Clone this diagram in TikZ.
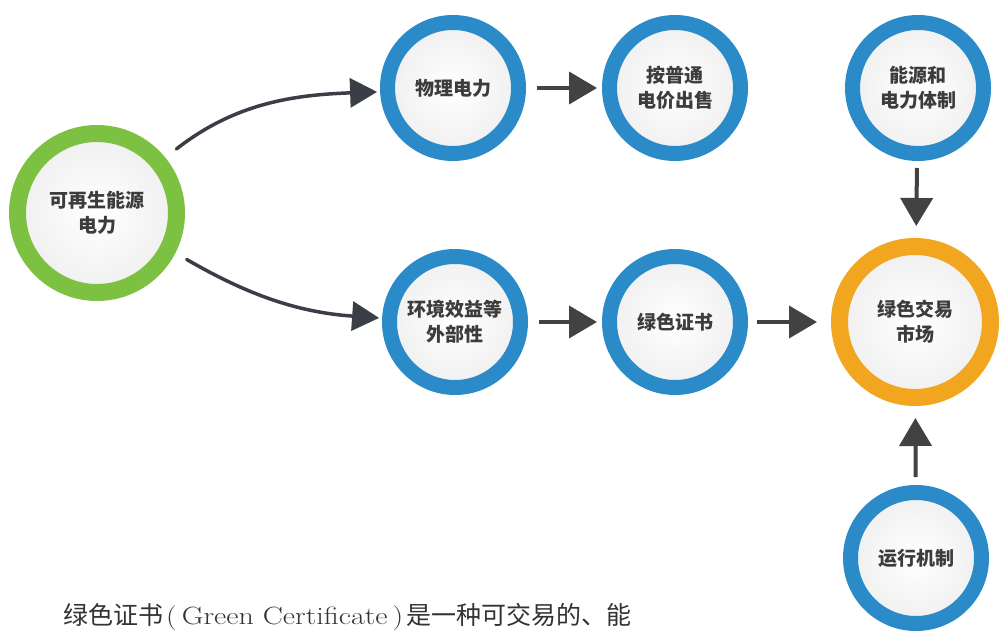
\documentclass[tikz,border=0pt]{standalone}
\usepackage{fontspec}
\newfontfamily\cjk{Noto Sans CJK SC}
\newfontfamily\latinw{Latin Modern Roman}[FakeStretch=1.2]
\usetikzlibrary{arrows.meta}
\definecolor{ringblue}{HTML}{2B8BC9}
\definecolor{ringgreen}{HTML}{7DC142}
\definecolor{ringorange}{HTML}{F2A51E}
\definecolor{txtgray}{HTML}{3C3C3C}
\definecolor{arrgray}{HTML}{424242}
\definecolor{arrslate}{HTML}{3B3E47}
\begin{document}
\begin{tikzpicture}[x=1pt,y=-1pt,
  bub/.style={circle, draw=ringblue, line width=15pt, minimum size=131pt, inner sep=0pt,
    inner color=white, outer color=black!6, text=txtgray, align=center,
    font=\cjk\bfseries\fontsize{19}{25}\selectfont},
  greenbub/.style={bub, draw=ringgreen, line width=17pt, minimum size=159pt},
  orangebub/.style={bub, draw=ringorange, line width=17pt, minimum size=151pt},
  sarr/.style={draw=arrgray, line width=4pt, -{Triangle[length=28pt,width=32pt]}, arrgray},
  carr/.style={draw=arrslate, line width=3.5pt, line cap=round, -{Triangle[length=27pt,width=29pt]}, arrslate}
]
\useasboundingbox (0,0) rectangle (999,631);
\fill[white] (0,0) rectangle (999,631);

\node[greenbub] (src) at (97,213) {可再生能源\\电力};
\node[bub] (phys) at (453,88) {物理电力};
\node[bub] (sell) at (675,88) {按普通\\电价出售};
\node[bub] (energy) at (918,88) {能源和\\电力体制};
\node[bub] (env) at (455,322) {环境效益等\\外部性};
\node[bub] (cert) at (675,322) {绿色证书};
\node[orangebub] (market) at (915,322) {绿色交易\\市场};
\node[bub] (run) at (916,558) {运行机制};

\draw[sarr, shorten <=11pt, shorten >=5pt] (phys) -- (sell);
\draw[sarr, shorten <=11pt, shorten >=5pt] (env) -- (cert);
\draw[sarr, shorten <=9pt, shorten >=14pt] (cert) -- (market);
\draw[sarr, shorten <=7pt, shorten >=12pt] (energy) -- (market);
\draw[sarr, shorten <=8pt, shorten >=12pt] (run) -- (market);

\draw[carr, shorten <=14pt, shorten >=3pt] (src.39) to[out=38, in=182] (phys.183);
\draw[carr, shorten <=13pt, shorten >=3pt] (src.-27) to[out=-30, in=176] (env.177);

\node[anchor=base west, inner sep=0pt, text=black!80] (cap) at (63,624)
  {{\cjk\fontsize{25}{25}\selectfont 绿色证书}{\latinw\fontsize{25}{25}\selectfont\hspace{3pt}(\hspace{5pt}Green Certificate\hspace{5pt})\hspace{3pt}}{\cjk\fontsize{25}{25}\selectfont 是一种可交易的、能}};
\end{tikzpicture}
\end{document}
